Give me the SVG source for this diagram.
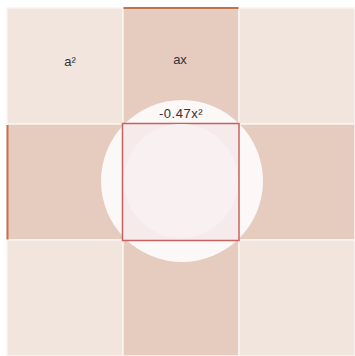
<svg xmlns="http://www.w3.org/2000/svg" width="355" height="356" viewBox="0 0 355 356">
<style>
.light{fill:#f2e5de;stroke:#faf4f1;stroke-width:1.5}
.dark{fill:#e6cbbf;stroke:#faf4f1;stroke-width:1.5}
.lbl{font-family:"Liberation Sans",Arial,sans-serif;font-size:13px;fill:#333;text-anchor:middle}
.accent{stroke:#c2714f;stroke-width:2;fill:none}
</style>
<rect x="0" y="0" width="355" height="356" fill="#ffffff"/>
<g id="cells">
<rect id="c00" class="light" x="7" y="8" width="116" height="116"/>
<rect id="c01" class="dark" x="123" y="8" width="116" height="116"/>
<rect id="c02" class="light" x="239" y="8" width="116" height="116"/>
<rect id="c10" class="dark" x="7" y="124" width="116" height="116"/>
<rect id="c11" class="dark" x="123" y="124" width="116" height="116"/>
<rect id="c12" class="dark" x="239" y="124" width="116" height="116"/>
<rect id="c20" class="light" x="7" y="240" width="116" height="116"/>
<rect id="c21" class="dark" x="123" y="240" width="116" height="116"/>
<rect id="c22" class="light" x="239" y="240" width="116" height="116"/>
</g>
<g id="accents">
<line class="accent" x1="123.5" y1="8" x2="238.5" y2="8"/>
<line class="accent" x1="7.5" y1="125" x2="7.5" y2="239.5"/>
</g>
<g id="circle">
<circle cx="182" cy="181" r="81" fill="#fbf8f7"/>
</g>
<g id="square">
<rect x="122.5" y="123.5" width="116.5" height="117" fill="#f6eaeb" stroke="#bd4a48" stroke-width="1.5" stroke-opacity="0.85"/>
<circle cx="181" cy="181" r="57" fill="#f9f1f1"/>
</g>
<g id="labels">
<text class="lbl" x="70" y="66">a²</text>
<text class="lbl" x="180" y="64">ax</text>
<text class="lbl" x="181" y="118" letter-spacing="0.5">-0.47x²</text>
</g>
</svg>
